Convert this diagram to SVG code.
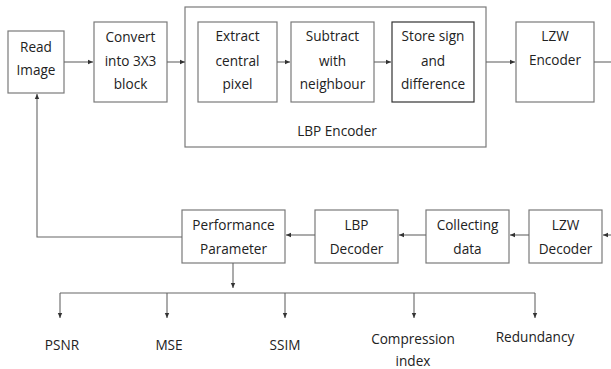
<svg xmlns="http://www.w3.org/2000/svg" width="611" height="369" viewBox="0 0 611 369">
<defs>
<marker id="ah" markerWidth="6" markerHeight="6" refX="5" refY="3" orient="auto" markerUnits="userSpaceOnUse">
<path d="M0,0.8 L5,3 L0,5.2 Z" fill="#333"/>
</marker>
<style>
.box{fill:#fff;stroke:#7a7a7a;stroke-width:1.2}
.dark{stroke:#333}
.t{font-family:"Open Sans","Liberation Sans",sans-serif;font-size:13.6px;fill:#222;text-anchor:middle}
.c{fill:none;stroke:#666;stroke-width:1.1}
</style>
</defs>
<rect width="611" height="369" fill="#fff"/>
<g id="lbp-encoder">
<rect class="box" x="185" y="7" width="301" height="140"/>
<text class="t" x="337" y="136">LBP Encoder</text>
</g>
<g id="read-image">
<rect class="box" x="8" y="31" width="56" height="62"/>
<text class="t" x="36" y="52">Read</text>
<text class="t" x="36" y="75">Image</text>
</g>
<g id="convert">
<rect class="box" x="94" y="22" width="73" height="80"/>
<text class="t" x="130.5" y="42">Convert</text>
<text class="t" x="130.5" y="66">into 3X3</text>
<text class="t" x="130.5" y="89">block</text>
</g>
<g id="extract">
<rect class="box" x="198" y="22" width="79" height="80"/>
<text class="t" x="237.5" y="41">Extract</text>
<text class="t" x="237.5" y="66">central</text>
<text class="t" x="237.5" y="89">pixel</text>
</g>
<g id="subtract">
<rect class="box" x="291" y="22" width="83" height="80"/>
<text class="t" x="332.5" y="41">Subtract</text>
<text class="t" x="332.5" y="66">with</text>
<text class="t" x="332.5" y="89">neighbour</text>
</g>
<g id="store">
<rect class="box dark" x="392" y="22" width="82" height="80"/>
<text class="t" x="433" y="41">Store sign</text>
<text class="t" x="433" y="66">and</text>
<text class="t" x="433" y="89">difference</text>
</g>
<g id="lzw-encoder">
<rect class="box" x="516" y="22" width="78" height="80"/>
<text class="t" x="555" y="41">LZW</text>
<text class="t" x="555" y="65">Encoder</text>
</g>
<g id="performance">
<rect class="box" x="182" y="210" width="103" height="53"/>
<text class="t" x="233.5" y="230">Performance</text>
<text class="t" x="233.5" y="254">Parameter</text>
</g>
<g id="lbp-decoder">
<rect class="box" x="315" y="210" width="83" height="53"/>
<text class="t" x="356.5" y="230">LBP</text>
<text class="t" x="356.5" y="254">Decoder</text>
</g>
<g id="collecting">
<rect class="box" x="426" y="210" width="83" height="53"/>
<text class="t" x="467.5" y="230">Collecting</text>
<text class="t" x="467.5" y="254">data</text>
</g>
<g id="lzw-decoder">
<rect class="box" x="529" y="210" width="73" height="53"/>
<text class="t" x="565.5" y="230">LZW</text>
<text class="t" x="565.5" y="254">Decoder</text>
</g>
<g id="psnr"><text class="t" x="62" y="350">PSNR</text></g>
<g id="mse"><text class="t" x="169" y="350">MSE</text></g>
<g id="ssim"><text class="t" x="285" y="350">SSIM</text></g>
<g id="compression"><text class="t" x="413" y="344">Compression</text><text class="t" x="413" y="366">index</text></g>
<g id="redundancy"><text class="t" x="535" y="342">Redundancy</text></g>
<g id="connectors">
<line class="c" x1="64" y1="62" x2="93" y2="62" marker-end="url(#ah)"/>
<line class="c" x1="167" y1="62" x2="185" y2="62" marker-end="url(#ah)"/>
<line class="c" x1="277" y1="62" x2="290" y2="62" marker-end="url(#ah)"/>
<line class="c" x1="374" y1="62" x2="391" y2="62" marker-end="url(#ah)"/>
<line class="c" x1="486" y1="62" x2="515" y2="62" marker-end="url(#ah)"/>
<line class="c" x1="594" y1="62" x2="611" y2="62"/>
<line class="c" x1="611" y1="235" x2="603" y2="235" marker-end="url(#ah)"/>
<line class="c" x1="529" y1="235" x2="510" y2="235" marker-end="url(#ah)"/>
<line class="c" x1="426" y1="235" x2="399" y2="235" marker-end="url(#ah)"/>
<line class="c" x1="315" y1="235" x2="286" y2="235" marker-end="url(#ah)"/>
<polyline class="c" points="182,237 37,237 37,94" marker-end="url(#ah)"/>
<line class="c" x1="233" y1="263" x2="233" y2="288" marker-end="url(#ah)"/>
<line class="c" x1="60" y1="293" x2="535" y2="293"/>
<line class="c" x1="60" y1="293" x2="60" y2="318" marker-end="url(#ah)"/>
<line class="c" x1="167" y1="293" x2="167" y2="318" marker-end="url(#ah)"/>
<line class="c" x1="285" y1="293" x2="285" y2="318" marker-end="url(#ah)"/>
<line class="c" x1="414" y1="293" x2="414" y2="318" marker-end="url(#ah)"/>
<line class="c" x1="535" y1="293" x2="535" y2="318" marker-end="url(#ah)"/>
</g>
</svg>
